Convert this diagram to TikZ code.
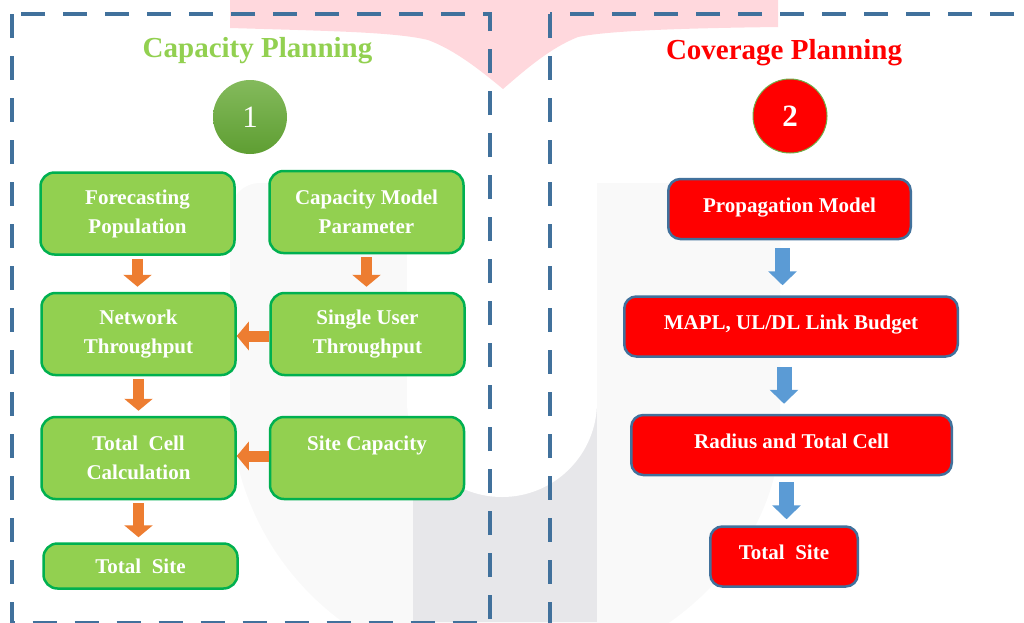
\documentclass[tikz,border=0pt]{standalone}
\usepackage{fontspec}
\setmainfont{Liberation Serif}
\usetikzlibrary{arrows.meta}

\definecolor{frameblue}{RGB}{65,113,156}
\definecolor{capgreen}{RGB}{146,208,80}
\definecolor{capedge}{RGB}{0,176,80}
\definecolor{arrorange}{RGB}{237,125,49}
\definecolor{arrblue}{RGB}{91,155,213}
\definecolor{logopink}{RGB}{255,216,221}
\definecolor{logolight}{RGB}{249,249,249}
\definecolor{logodark}{RGB}{231,231,234}

\begin{document}
\begin{tikzpicture}[
  capbox/.style={draw=capedge, fill=capgreen, line width=2.5pt, rounded corners=14pt,
    minimum width=194pt, minimum height=82pt, align=center, text=white,
    font=\fontsize{21}{29}\selectfont\bfseries},
  covbox/.style={draw=frameblue, fill=red, line width=2.5pt, rounded corners=12pt,
    minimum height=60pt, align=center, text=white, text height=15pt, text depth=9pt,
    font=\fontsize{21}{28}\selectfont\bfseries},
  orangearr/.style={arrorange, line width=11pt, -{Triangle[width=28pt,length=12pt]}},
  bluearr/.style={arrblue, line width=15pt, -{Triangle[width=28pt,length=14pt]}},
  dashframe/.style={frameblue, line width=4.5pt, dash pattern=on 24pt off 18pt},
  headline/.style={font=\fontsize{29}{29}\selectfont\bfseries},
  numdot/.style={circle, minimum size=74pt, inner sep=0pt, text=white,
    font=\fontsize{31}{31}\selectfont}
]
  \clip (0pt,0pt) rectangle (1024pt,-622pt);

  \fill[logopink] (230pt,0pt) -- (230pt,-28pt)
    .. controls (330pt,-31pt) and (395pt,-32pt) .. (428pt,-40pt)
    .. controls (455pt,-50pt) and (480pt,-70pt) .. (503pt,-89pt)
    .. controls (525pt,-70pt) and (550pt,-48pt) .. (578pt,-37pt)
    .. controls (610pt,-30pt) and (700pt,-28pt) .. (778pt,-27pt)
    -- (778pt,0pt) -- cycle;

  \fill[logolight, rounded corners=30pt] (230pt,-400pt) -- (230pt,-183pt)
    -- (780pt,-183pt) -- (780pt,-400pt) [sharp corners]
    arc (0:-180:275pt) -- cycle;
  \fill[logodark] (413pt,-402pt) rectangle (597pt,-622pt);
  \fill[white] (407pt,-150pt) -- (407pt,-402pt) arc (180:360:95pt)
    -- (597pt,-150pt) -- cycle;

  \draw[dashframe] (12pt,-14pt) rectangle (490pt,-623.5pt);
  \draw[dashframe] (550pt,-14pt) rectangle (1060pt,-660pt);

  \node[headline, text=capgreen] (capttl) at (257.5pt,-51pt) {Capacity Planning};
  \node[headline, text=red] (covttl) at (784pt,-53pt) {Coverage Planning};

  \node[numdot, top color={rgb,255:red,132;green,186;blue,92},
    bottom color={rgb,255:red,94;green,158;blue,50}] (one) at (250pt,-117pt) {1};
  \node[numdot, fill=red, draw={rgb,255:red,112;green,173;blue,71}, line width=1pt,
    font=\fontsize{31}{31}\selectfont\bfseries] (two) at (790pt,-116pt) {2};

  \node[capbox] (forecast) at (137.5pt,-213.5pt) {Forecasting\\Population};
  \node[capbox] (model) at (366.5pt,-212pt) {Capacity Model\\Parameter};
  \node[capbox] (network) at (138.5pt,-334pt) {Network\\Throughput};
  \node[capbox] (single) at (367.5pt,-334pt) {Single User\\Throughput};
  \node[capbox] (cells) at (138.5pt,-458pt) {Total\ \ Cell\\Calculation};
  \node[capbox] (sitecap) at (367pt,-458pt) {Site Capacity\\\mbox{}};
  \node[capbox, minimum height=45pt] (capsite) at (140.5pt,-566pt) {Total\ \ Site};

  \draw[orangearr] ([yshift=-3pt]forecast.south) -- ([yshift=5pt]forecast.south |- network.north);
  \draw[orangearr] ([yshift=-3pt]model.south) -- ([yshift=5pt]model.south |- single.north);
  \draw[orangearr] ([yshift=-3pt]network.south) -- ([yshift=5pt]network.south |- cells.north);
  \draw[orangearr] ([yshift=-3pt]cells.south) -- ([yshift=5pt]cells.south |- capsite.north);
  \draw[orangearr] ([yshift=-2pt]single.west) -- ([yshift=-2pt]network.east);
  \draw[orangearr] ([yshift=2pt]sitecap.west) -- ([yshift=2pt]cells.east);

  \node[covbox, minimum width=242.5pt] (prop) at (789.5pt,-209pt) {Propagation Model};
  \node[covbox, minimum width=333.5pt] (mapl) at (791pt,-326.5pt) {MAPL, UL/DL Link Budget};
  \node[covbox, minimum width=320.5pt] (radius) at (791.5pt,-445pt) {Radius and Total Cell};
  \node[covbox, minimum width=147.5pt] (covsite) at (784pt,-556.5pt) {Total\ \ Site};

  \draw[bluearr] ([shift={(-7pt,-8pt)}]prop.south) -- ([shift={(-7pt,10pt)}]prop.south |- mapl.north);
  \draw[bluearr] ([shift={(-7pt,-9pt)}]mapl.south) -- ([shift={(-7pt,10pt)}]mapl.south |- radius.north);
  \draw[bluearr] ([shift={(-5pt,-6pt)}]radius.south) -- ([shift={(-5pt,6pt)}]radius.south |- covsite.north);
\end{tikzpicture}
\end{document}
